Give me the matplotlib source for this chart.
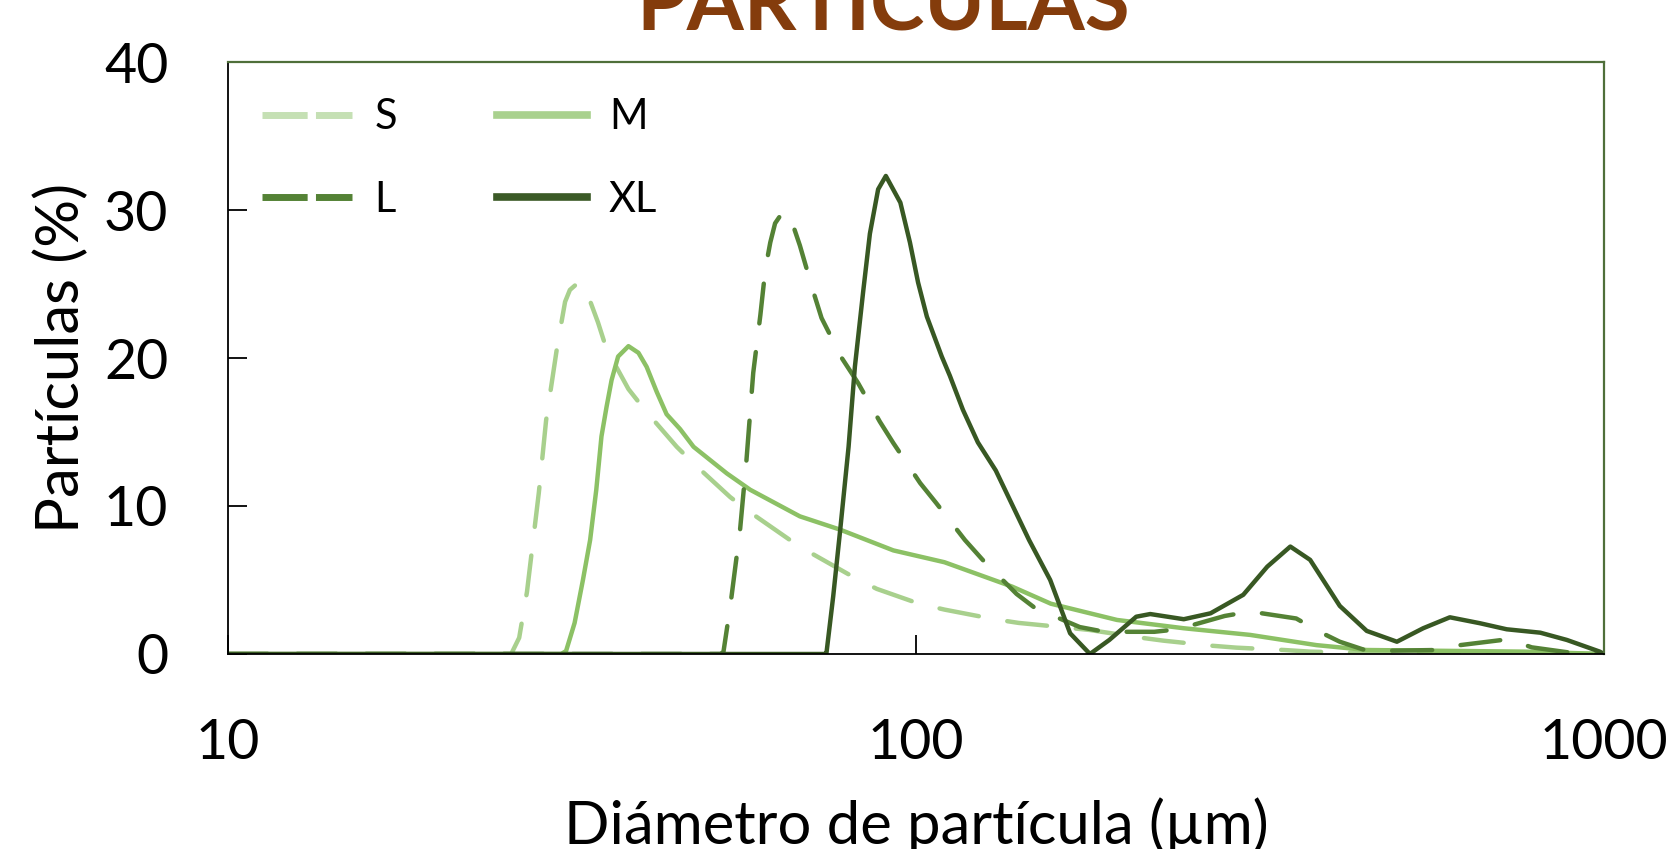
import matplotlib
matplotlib.use("Agg")
import matplotlib.pyplot as plt
from matplotlib.lines import Line2D

plt.rcParams['font.family'] = ['Lato', 'DejaVu Sans']

# particle size distributions (diameter in um, share in %)
x_s = [10, 25.8, 26.5, 27.2, 28.3, 29.0, 29.7, 30.1, 30.9, 31.4, 32.3, 33.2, 34.5, 35.5,
       38.2, 40.5, 44.9, 47.7, 53.7, 57.7, 65.6, 70.5, 81.1, 87.7, 101, 110, 130, 141,
       160, 179, 210, 229, 269, 292, 343, 374, 437, 550, 700, 850, 1000]
y_s = [0, 0, 1.1, 4.2, 10.9, 15.8, 19.0, 20.8, 23.8, 24.6, 25.1, 24.5, 22.4, 20.6,
       17.9, 16.4, 14.0, 12.8, 10.6, 9.5, 7.7, 6.8, 5.2, 4.4, 3.4, 3.0, 2.35, 2.1,
       1.85, 1.62, 1.13, 0.9, 0.56, 0.43, 0.27, 0.16, 0.09, 0.1, 0.1, 0.05, 0.0]

x_m = [10, 30.5, 31.0, 31.9, 32.8, 33.6, 34.3, 34.9, 35.5, 36.1, 36.9, 38.2, 39.5, 40.6,
       42.0, 43.4, 45.4, 47.5, 53.1, 57.4, 67.8, 77.6, 92.7, 110, 138, 157, 196, 245,
       306, 382, 452, 569, 767, 1000]
y_m = [0, 0, 0.2, 2.1, 5.0, 7.7, 11.1, 14.7, 16.7, 18.5, 20.1, 20.8, 20.35, 19.4,
       17.7, 16.2, 15.2, 14.0, 12.2, 11.1, 9.3, 8.4, 7.0, 6.2, 4.55, 3.4, 2.3, 1.74,
       1.29, 0.6, 0.27, 0.22, 0.16, 0.0]

x_l = [10, 52, 52.5, 53.7, 55.5, 56.7, 58.0, 59.4, 60.4, 61.4, 62.4, 64.1, 65.9, 67.8,
       70.9, 72.9, 78.0, 82.4, 88.6, 92.7, 101.4, 107, 117.8, 125, 140, 149, 173, 188,
       222, 240, 281, 306, 357, 386, 413, 447, 483, 571, 618, 726, 785, 923, 1000]
y_l = [0, 0, 0.15, 3.2, 8.4, 13.1, 19.0, 22.9, 26.0, 27.8, 29.1, 29.9, 29.3, 27.6,
       24.5, 22.7, 20.0, 18.3, 15.7, 14.25, 11.55, 10.2, 7.7, 6.36, 4.06, 3.1, 1.82, 1.5,
       1.5, 1.67, 2.57, 2.87, 2.4, 1.5, 0.83, 0.3, 0.22, 0.27, 0.6, 1.0, 0.45, 0, 0]

x_xl = [10, 73.5, 74.1, 75.8, 77.6, 79.8, 81.5, 83.8, 85.7, 88.1, 90.4, 94.9, 98.0, 100.7,
        103.7, 109, 112, 117, 123, 130.6, 146, 156.7, 167.5, 179, 191, 209,
        219, 245, 268, 299, 324, 350, 374, 413, 452, 500, 546, 597, 660, 722, 808, 883,
        986, 1000]
y_xl = [0, 0, 0.05, 3.9, 8.4, 14.0, 19.4, 24.5, 28.4, 31.4, 32.3, 30.5, 27.8, 25.1,
        22.8, 20.1, 18.8, 16.5, 14.3, 12.4, 7.7, 5.0, 1.4, 0, 0.95, 2.52,
        2.7, 2.35, 2.75, 4.0, 5.9, 7.26, 6.36, 3.25, 1.56, 0.83, 1.74, 2.48, 2.08, 1.67, 1.44, 0.95,
        0.16, 0]

labels = ['S', 'M', 'L', 'XL']
line_colors = ['#a8d08d', '#8cc165', '#548235', '#385823']
legend_colors = ['#c5e0b4', '#a9d18e', '#548235', '#3b5a27']
dashed = [True, False, True, False]

fig = plt.figure(figsize=(16.79, 8.49), dpi=100)
ax = fig.add_axes([228 / 1679, 1 - 654 / 849, 1376 / 1679, 592 / 849])

series = [(x_s, y_s), (x_m, y_m), (x_l, y_l), (x_xl, y_xl)]
for (xs, ys), c, d in zip(series, line_colors, dashed):
    if d:
        ax.plot(xs, ys, color=c, lw=3.2, dashes=(9, 6.5), dash_capstyle='round',
                dash_joinstyle='round')
    else:
        ax.plot(xs, ys, color=c, lw=3.2, solid_capstyle='round', solid_joinstyle='round')

ax.set_xscale('log')
ax.set_xlim(10, 1000)
ax.set_ylim(0, 40)
ax.set_yticks([0, 10, 20, 30, 40])
ax.set_xticks([10, 100, 1000])
ax.set_xticklabels(['10', '100', '1000'])
ax.minorticks_off()
ax.tick_params(axis='y', direction='in', length=14, width=1.3, labelsize=40, pad=43)
ax.tick_params(axis='x', direction='in', length=14, width=1.3, labelsize=40, pad=46)

for side in ['left', 'bottom']:
    ax.spines[side].set_color('black')
    ax.spines[side].set_linewidth(1.3)
for side in ['top', 'right']:
    ax.spines[side].set_color('#4f6f3a')
    ax.spines[side].set_linewidth(1.6)

ax.set_ylabel('Partículas (%)', fontsize=43, va='center')
ax.yaxis.set_label_coords((61 - 228) / 1376, 0.5)
ax.set_xlabel('Diámetro de partícula (µm)', fontsize=43, va='center')
ax.xaxis.set_label_coords(0.5, (654 - 826) / 592)

fig.text(883 / 1679, 1 - 30 / 849, 'PARTÍCULAS', ha='center', va='baseline',
         fontsize=59, fontweight='bold', color='#843c0c')

handles = []
for c, d in zip(legend_colors, dashed):
    if d:
        handles.append(Line2D([], [], color=c, lw=5, dashes=(6.5, 1.2)))
    else:
        handles.append(Line2D([], [], color=c, lw=5.5))
order = [0, 2, 1, 3]
ax.legend([handles[i] for i in order], [labels[i] for i in order], ncol=2,
          loc='upper left', bbox_to_anchor=(0.025, 0.939), frameon=False,
          fontsize=30, handlelength=2.16, handletextpad=0.53, columnspacing=2.4,
          labelspacing=1.07, borderaxespad=0, borderpad=0)

fig.savefig('out.png', dpi=100)
